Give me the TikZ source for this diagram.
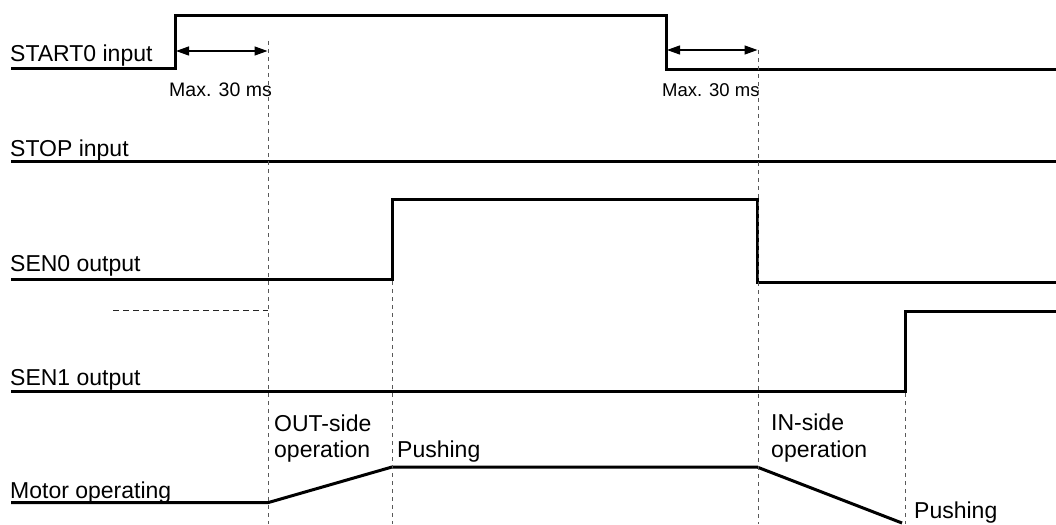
\documentclass[tikz,border=0pt]{standalone}
\usepackage{fontspec}
\setmainfont{Liberation Sans}
\usetikzlibrary{arrows.meta}
\begin{document}
\begin{tikzpicture}[x=1pt,y=-1pt,
  sig/.style={line width=3pt, line join=miter},
  guide/.style={draw=black!65, line width=0.9pt, dash pattern=on 4pt off 4pt},
  hguide/.style={draw=black!85, line width=1pt, dash pattern=on 6pt off 4pt},
  dim/.style={line width=1.3pt, {Triangle[length=13pt,width=9pt]}-{Triangle[length=13pt,width=9pt]}},
  lbl/.style={anchor=base west, inner sep=0pt, font=\fontsize{23}{27}\selectfont},
  small/.style={anchor=base west, inner sep=0pt, font=\fontsize{19.5}{22}\selectfont},
  smaller/.style={anchor=base west, inner sep=0pt, font=\fontsize{18.5}{22}\selectfont}]
\useasboundingbox (0,0) rectangle (1056,524);

% labels
\node[lbl] (lstart) at (10,62) {START0 input};
\node[lbl] (lstop) at (10,156) {STOP input};
\node[lbl] (lsen0) at (10,271) {SEN0 output};
\node[lbl] (lsen1) at (10,385) {SEN1 output};
\node[lbl] (lmotor) at (10,498) {Motor operating};
\node[small] (max1) at (169,96) {Max. 30 ms};
\node[smaller] (max2) at (662,97) {Max. 30 ms};
\node[lbl] (outA) at (274,431) {OUT-side};
\node[lbl] (outB) at (274,457) {operation};
\node[lbl] (push1) at (397,457) {Pushing};
\node[lbl] (inA) at (771,430) {IN-side};
\node[lbl] (inB) at (771,457) {operation};
\node[lbl] (push2) at (914,518) {Pushing};

% START0
\coordinate (s0) at (11,69);
\coordinate (s1) at (175,69);
\coordinate (s2) at (175,16);
\coordinate (s3) at (666,16);
\coordinate (s4) at (666,70);
\coordinate (s5) at (1056,70);
\draw[sig] (s0) -- (s1) -- (s2) -- (s3) -- (s4) -- (s5);

% STOP
\coordinate (t0) at (11,161);
\coordinate (t1) at (1056,161);
\draw[sig] (t0) -- (t1);

% SEN0
\coordinate (a0) at (11,279);
\coordinate (a1) at (392,279);
\coordinate (a2) at (392,199);
\coordinate (a3) at (757,199);
\coordinate (a4) at (757,282);
\coordinate (a5) at (1056,282);
\draw[sig] (a0) -- (a1) -- (a2) -- (a3) -- (a4) -- (a5);

% SEN1
\coordinate (b0) at (11,391.5);
\coordinate (b1) at (905,391.5);
\coordinate (b2) at (905,311);
\coordinate (b3) at (1056,311);
\draw[sig] (b0) -- (b1) -- (b2) -- (b3);

% Motor
\coordinate (m0) at (11,502.5);
\coordinate (m1) at (268.5,502.5);
\coordinate (m2) at (392,467);
\coordinate (m3) at (757,467);
\coordinate (m4) at (902,523);
\draw[sig] (m0) -- (m1) -- (m2) -- (m3) -- (m4);

% guides
\coordinate (g1t) at (268.5,41);  \coordinate (g1b) at (268.5,524);
\coordinate (g2t) at (758,50);    \coordinate (g2b) at (758,524);
\coordinate (g3t) at (392,281);   \coordinate (g3b) at (392,524);
\coordinate (g4t) at (905.5,393); \coordinate (g4b) at (905.5,524);
\draw[guide] (g1t) -- (g1b);
\draw[guide] (g2t) -- (g2b);
\draw[guide] (g3t) -- (g3b);
\draw[guide] (g4t) -- (g4b);
\coordinate (h0) at (113,310);
\coordinate (h1) at (268,310);
\draw[hguide] (h0) -- (h1);

% dimension arrows
\coordinate (d1a) at (176,51);  \coordinate (d1b) at (267.5,51);
\coordinate (d2a) at (667,50);  \coordinate (d2b) at (757.5,50);
\draw[dim] (d1a) -- (d1b);
\draw[dim] (d2a) -- (d2b);
\end{tikzpicture}
\end{document}
